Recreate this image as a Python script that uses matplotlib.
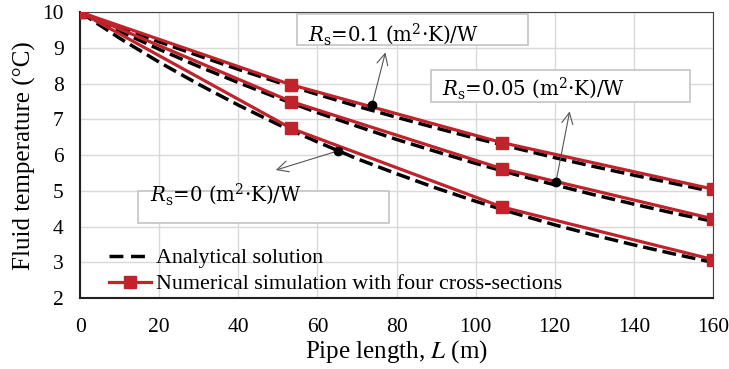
import matplotlib.pyplot as plt
from matplotlib.patches import Rectangle

plt.rcParams["font.family"] = ["Liberation Serif", "DejaVu Serif"]
plt.rcParams["mathtext.fontset"] = "stix"

# analytical solution, sampled every 10 m
length_a = [0, 10, 20, 30, 40, 50, 60, 70, 80, 90, 100, 110, 120, 130, 140, 150, 160]
analytic_rs0 = [10, 9.27, 8.60, 7.98, 7.40, 6.86, 6.37, 5.90, 5.48, 5.08, 4.71,
                4.37, 4.05, 3.76, 3.49, 3.24, 3.00]
analytic_rs005 = [10, 9.47, 8.96, 8.48, 8.03, 7.60, 7.19, 6.81, 6.44, 6.10, 5.77,
                  5.46, 5.17, 4.89, 4.63, 4.38, 4.15]
analytic_rs01 = [10, 9.57, 9.17, 8.78, 8.40, 8.04, 7.70, 7.37, 7.06, 6.76, 6.47,
                 6.20, 5.93, 5.68, 5.44, 5.21, 4.98]

# numerical simulation, four cross-sections
length_n = [0, 53.33, 106.67, 160]
numeric_rs0 = [10, 6.75, 4.55, 3.08]
numeric_rs005 = [10, 7.50, 5.62, 4.22]
numeric_rs01 = [10, 7.97, 6.35, 5.05]

# callouts: anchor point on the curve, arrow tip, box (x0, y0, x1, y1), text origin
labels = ["$R_\\mathrm{s}$=0.1 (m$^2$·K)/W",
          "$R_\\mathrm{s}$=0.05 (m$^2$·K)/W",
          "$R_\\mathrm{s}$=0 (m$^2$·K)/W"]
anchors = [(73.8, 7.41), (120.3, 5.25), (65.2, 6.12)]
arrow_tip = [(77.35, 8.95), (123.9, 7.30), (48.8, 5.56)]
boxes = [(54.85, 9.09, 113.25, 9.96), (88.7, 7.49, 154.2, 8.39), (14.66, 4.10, 78.1, 5.00)]
text_at = [(57.6, 9.19), (91.5, 7.67), (17.7, 4.70)]

red = "#c0232b"
dash = (0, (4, 1.7))

fig = plt.figure(figsize=(7.29, 3.69), dpi=100)
ax = fig.add_axes([0.110, 0.192, 0.868, 0.775])

for ya in [analytic_rs0, analytic_rs005, analytic_rs01]:
    ax.plot(length_a, ya, color="black", lw=2.5, ls=dash, zorder=3)
for yn in [numeric_rs0, numeric_rs005, numeric_rs01]:
    ax.plot(length_n, yn, color=red, lw=2.3, marker="s", ms=9, zorder=4)

# legend handles
ax.plot([], [], color="black", lw=2.5, ls=(0, (4, 2.2)), label="Analytical solution")
ax.plot([], [], color=red, lw=2.3, marker="s", ms=9,
        label="Numerical simulation with four cross-sections")
h, l = ax.get_legend_handles_labels()
ax.legend(h, l, loc="lower left", bbox_to_anchor=(0.022, -0.04), frameon=False,
          fontsize=15.8, handlelength=1.9, handletextpad=0.2, borderaxespad=0.3,
          labelspacing=0.25)

for txt, anc, tip, box, pos in zip(labels, anchors, arrow_tip, boxes, text_at):
    ax.plot(*anc, "o", color="black", ms=6, zorder=6)
    ax.annotate("", xy=tip, xytext=anc,
                arrowprops=dict(arrowstyle="->", color="#555555", lw=0.8,
                                mutation_scale=20), zorder=5)
    ax.add_patch(Rectangle((box[0], box[1]), box[2] - box[0], box[3] - box[1],
                           fc="white", ec="#c4c4c4", lw=1.2, zorder=7))
    ax.text(pos[0], pos[1], txt, fontsize=14.2, va="baseline", ha="left", zorder=8,
            family=["DejaVu Serif"], math_fontfamily="dejavuserif")

ax.set_xlim(0, 160)
ax.set_ylim(2, 10)
ax.set_xticks(range(0, 161, 20))
ax.set_yticks(range(2, 11))
ax.grid(color="#d9d9d9", lw=1)
ax.set_axisbelow(True)
ax.tick_params(axis="x", labelsize=15.5, length=0, pad=14)
ax.tick_params(axis="y", labelsize=15.5, length=0, pad=12)
for side in ["top", "right"]:
    ax.spines[side].set_color("#404040")
for side in ["left", "bottom"]:
    ax.spines[side].set_color("#202020")
    ax.spines[side].set_linewidth(1.5)

ax.set_xlabel("Pipe length, $L$ (m)", fontsize=18, labelpad=1)
ax.set_ylabel("Fluid temperature (°C)", fontsize=18, labelpad=4)

fig.savefig("out.png", dpi=100)
